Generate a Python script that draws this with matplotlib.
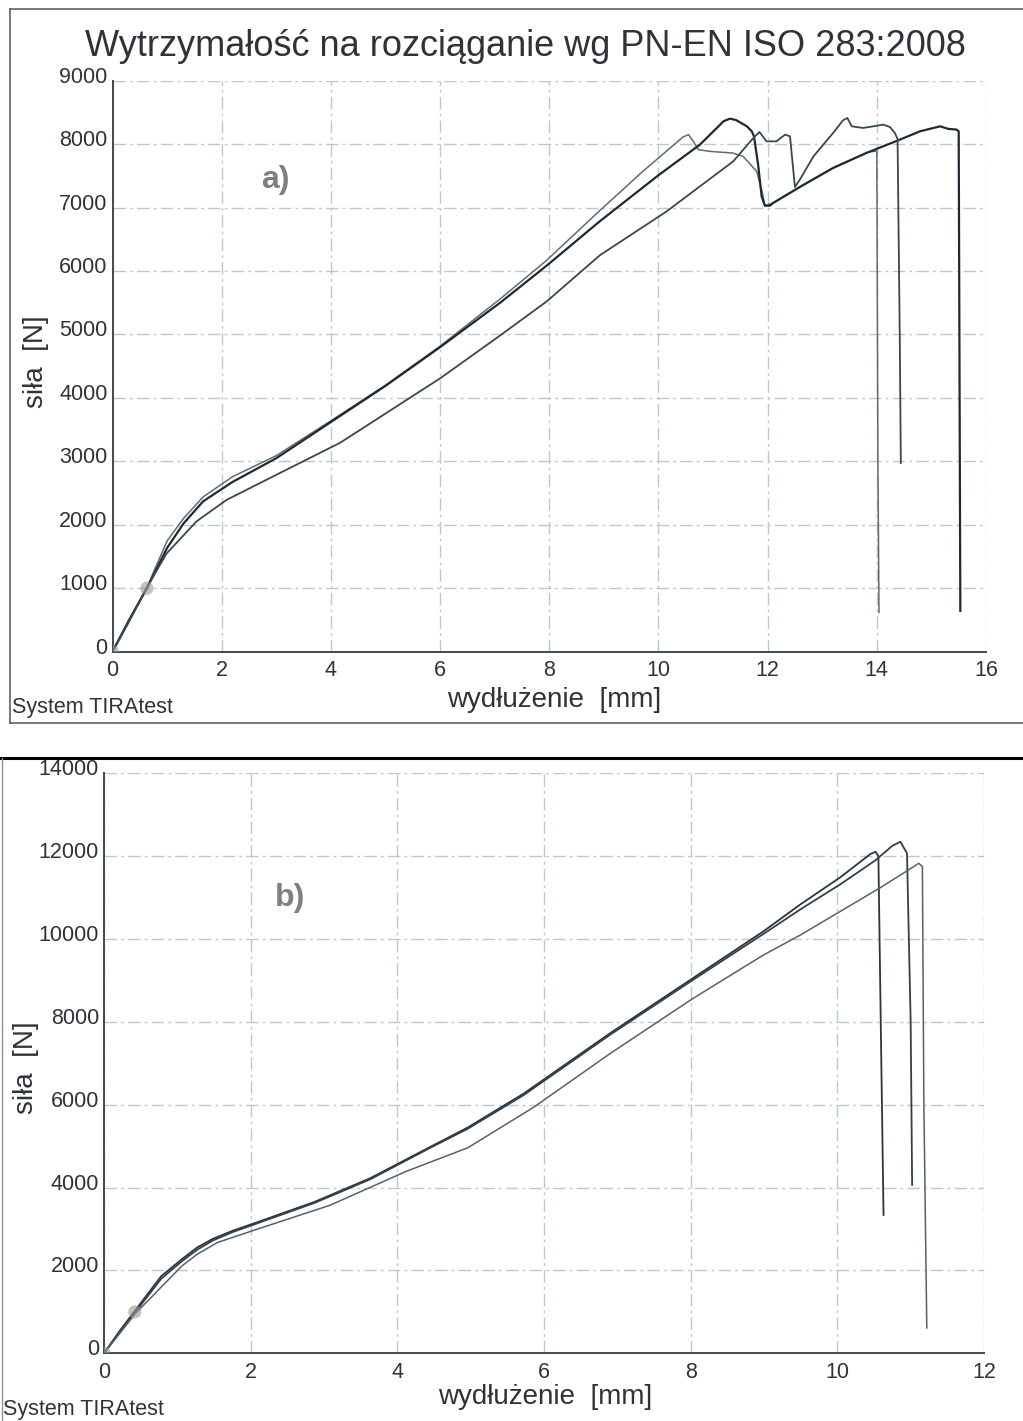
import matplotlib
matplotlib.use("Agg")
import matplotlib.pyplot as plt
from matplotlib.lines import Line2D
import matplotlib.transforms as mtransforms

plt.rcParams['font.family'] = ['Liberation Sans', 'DejaVu Sans']

# ---------------- data: panel a) ----------------
a_xticks = [0, 2, 4, 6, 8, 10, 12, 14, 16]
a_yticks = [0, 1000, 2000, 3000, 4000, 5000, 6000, 7000, 8000, 9000]

a1_x = [0, 0.3, 0.63, 1.0, 1.3, 1.66, 2.2, 3.0, 4.0, 5.0, 6.0, 7.1, 7.95, 8.93, 9.7,
        10.45, 10.55, 10.64, 10.73, 10.94, 11.36, 11.55, 11.8, 11.9, 11.95, 12.1,
        12.59, 13.2, 13.8, 13.86, 14.0, 14.02, 14.04]
a1_y = [0, 500, 1013, 1746, 2100, 2440, 2759, 3090, 3640, 4200, 4815, 5560, 6167, 6956, 7560,
        8113, 8150, 8044, 7913, 7886, 7860, 7808, 7570, 7250, 7030, 7072,
        7325, 7625, 7860, 7880, 7890, 3000, 620]

a2_x = [0, 0.3, 0.63, 1.0, 1.3, 1.66, 2.2, 3.0, 4.0, 5.0, 6.0, 7.1, 7.95, 8.93, 10.0,
        10.76, 11.13, 11.19, 11.31, 11.42, 11.62, 11.71, 11.75, 11.83, 11.89, 11.95,
        12.04, 12.1, 12.59, 13.2, 13.81, 14.42, 14.79, 15.16, 15.31, 15.46, 15.5, 15.53]
a2_y = [0, 490, 1000, 1635, 2020, 2370, 2676, 3050, 3620, 4190, 4800, 5500, 6083, 6787, 7510,
        7992, 8307, 8360, 8402, 8380, 8281, 8202, 8123, 7650, 7177, 7030,
        7030, 7072, 7325, 7625, 7861, 8070, 8202, 8281, 8240, 8230, 8200, 642]

a3_x = [0, 0.3, 0.63, 0.99, 1.54, 2.09, 3.13, 4.17, 5.39, 6.0, 7.1, 7.95, 8.93, 10.15,
        11.37, 11.74, 11.85, 11.98, 12.16, 12.32, 12.41, 12.5, 12.59, 12.84, 13.2, 13.38,
        13.46, 13.54, 13.75, 14.12, 14.24, 14.33, 14.38, 14.42, 14.44]
a3_y = [0, 470, 1013, 1547, 2055, 2393, 2844, 3293, 3970, 4308, 4984, 5519, 6250, 6940,
        7729, 8098, 8192, 8044, 8044, 8150, 8123, 7325, 7440, 7808, 8177, 8375,
        8413, 8281, 8255, 8307, 8270, 8177, 8082, 5000, 2975]

a_mark_x = [0, 0.63]
a_mark_y = [0, 1000]

# ---------------- data: panel b) ----------------
b_xticks = [0, 2, 4, 6, 8, 10, 12]
b_yticks = [0, 2000, 4000, 6000, 8000, 10000, 12000, 14000]

b1_x = [0, 0.22, 0.43, 0.78, 1.06, 1.27, 1.48, 1.76, 2.03, 2.87, 3.63, 4.47, 4.96, 5.72,
        6.91, 8.02, 8.99, 9.5, 10.04, 10.45, 10.52, 10.56, 10.6, 10.63]
b1_y = [0, 555, 1045, 1861, 2269, 2554, 2759, 2962, 3126, 3654, 4226, 5001, 5450, 6266,
        7736, 9042, 10183, 10840, 11489, 12050, 12107, 12000, 7000, 3340]

b2_x = [0, 0.22, 0.43, 0.78, 1.06, 1.27, 1.48, 1.76, 2.03, 2.87, 3.63, 4.47, 4.96, 5.72,
        6.91, 8.02, 8.99, 9.5, 10.04, 10.52, 10.75, 10.86, 10.95, 11.0, 11.02]
b2_y = [0, 520, 1000, 1800, 2220, 2500, 2720, 2930, 3100, 3630, 4200, 4980, 5420, 6230,
        7700, 9000, 10120, 10720, 11320, 11900, 12250, 12348, 12069, 8000, 4065]

b3_x = [0, 0.43, 1.06, 1.27, 1.55, 1.76, 2.03, 3.08, 4.12, 4.96, 5.86, 6.91, 8.02, 8.99,
        9.5, 10.59, 11.0, 11.11, 11.16, 11.18, 11.22]
b3_y = [0, 963, 2105, 2390, 2677, 2800, 2962, 3572, 4391, 4960, 5940, 7246, 8552, 9612,
        10100, 11243, 11700, 11827, 11750, 6000, 612]

b_mark_x = [0, 0.42]
b_mark_y = [0, 1000]

# ---------------- texts ----------------
title = "Wytrzymałość na rozciąganie wg PN-EN ISO 283:2008"
xlabel = "wydłużenie  [mm]"
ylabel = "siła  [N]"
footer = "System TIRAtest"

W, H = 1023, 1421
fig = plt.figure(figsize=(W / 100, H / 100), dpi=100)
fig.patch.set_facecolor('white')

TXT = '#2e3338'
GRID = '#bcc7cf'
SPINE = '#3f4a52'


def add_ax(left, top, right, bottom):
    return fig.add_axes([left / W, 1 - bottom / H, (right - left) / W, (bottom - top) / H])


def style(ax, xlim, ylim, xt, yt):
    ax.set_xlim(*xlim)
    ax.set_ylim(*ylim)
    ax.set_xticks(xt)
    ax.set_yticks(yt)
    ax.set_xticklabels([str(v) for v in xt])
    ax.set_yticklabels([])
    ax.tick_params(length=0, labelsize=15.5, labelcolor=TXT)
    ax.tick_params(axis='x', pad=6)
    # y tick labels drawn manually: right-aligned next to the axis, sitting on the gridline
    trans = mtransforms.blended_transform_factory(ax.transAxes, ax.transData)
    trans = trans + mtransforms.ScaledTranslation(-5 / 100, -2 / 100, fig.dpi_scale_trans)
    for v in yt:
        ax.text(0, v, str(v), transform=trans, ha='right', va='baseline',
                fontsize=15.5, color=TXT, clip_on=False)
    for s in ['top', 'right']:
        ax.spines[s].set_visible(False)
    for s in ['left', 'bottom']:
        ax.spines[s].set_color(SPINE)
        ax.spines[s].set_linewidth(1.4)
        ax.spines[s].set_zorder(5)
    ax.grid(True, color=GRID, linewidth=1.0, linestyle=(0, (9, 3, 2, 3)))
    ax.set_axisbelow(True)
    ax.set_facecolor('white')


# ---- panel a ----
axa = add_ax(112.5, 80.7, 986, 651.7)
style(axa, (0, 16), (0, 9000), a_xticks, a_yticks)
axa.plot(a1_x, a1_y, color='#5f6a72', lw=1.1, solid_joinstyle='round')
axa.plot(a2_x, a2_y, color='#1e2a33', lw=1.6, solid_joinstyle='round')
axa.plot(a3_x, a3_y, color='#3a4650', lw=1.3, solid_joinstyle='round')
axa.scatter(a_mark_x, a_mark_y, s=90, color='#9a9a9a', alpha=0.6, zorder=6, edgecolors='none')
axa.text(2.98, 7440, "a)", fontsize=23, fontweight='bold', color='#7f7f7f',
         ha='center', va='center')

# ---- panel b ----
axb = add_ax(104, 773.3, 984, 1353.3)
style(axb, (0, 12), (0, 14000), b_xticks, b_yticks)
axb.plot(b1_x, b1_y, color='#2a363f', lw=1.3, solid_joinstyle='round')
axb.plot(b2_x, b2_y, color='#33404a', lw=1.3, solid_joinstyle='round')
axb.plot(b3_x, b3_y, color='#55616b', lw=1.1, solid_joinstyle='round')
axb.scatter(b_mark_x, b_mark_y, s=90, color='#9a9a9a', alpha=0.6, zorder=6, edgecolors='none')
axb.text(2.54, 10990, "b)", fontsize=23, fontweight='bold', color='#7f7f7f',
         ha='center', va='center')

# ---- figure texts ----
def ft(xp, yp, s, **kw):
    fig.text(xp / W, 1 - yp / H, s, color=TXT, **kw)

ft(525, 46, title, fontsize=26, ha='center', va='center')
ft(554, 700, xlabel, fontsize=20, ha='center', va='center')
ft(545, 1397, xlabel, fontsize=20, ha='center', va='center')
ft(36, 362, ylabel, fontsize=20, ha='center', va='center', rotation=90)
ft(26, 1068, ylabel, fontsize=20, ha='center', va='center', rotation=90)
ft(12, 708, footer, fontsize=15.5, ha='left', va='center')
ft(3, 1410, footer, fontsize=15.5, ha='left', va='center')

# ---- frame lines ----
def fl(xs, ys, **kw):
    fig.add_artist(Line2D([x / W for x in xs], [1 - y / H for y in ys],
                          transform=fig.transFigure, **kw))

fl([10, 1023], [9, 9], color='#5a636a', lw=1.2)
fl([10, 10], [9, 723], color='#5a636a', lw=1.2)
fl([10, 1023], [723, 723], color='#5a636a', lw=1.2)
fl([0, 1023], [758, 758], color='black', lw=2.2)
fl([2, 2], [758, 1421], color='#8a9298', lw=1.0)

fig.savefig("out.png", dpi=100, facecolor='white')
